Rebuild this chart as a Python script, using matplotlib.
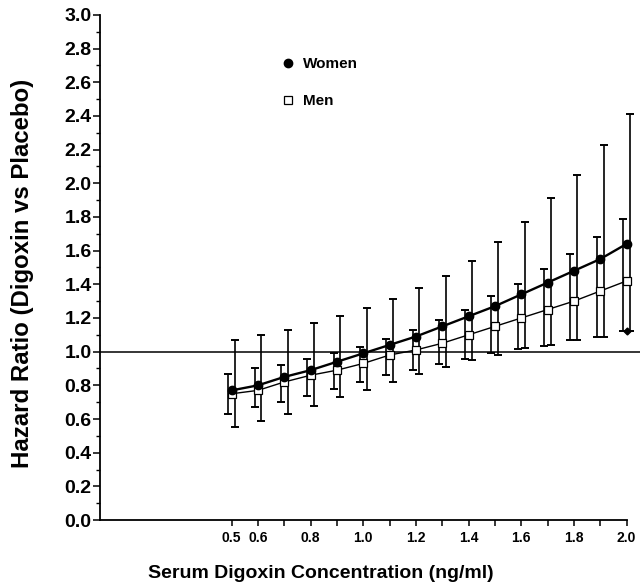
import matplotlib
matplotlib.use("Agg")
import matplotlib.pyplot as plt
from matplotlib.ticker import MultipleLocator, FixedLocator

# serum digoxin concentration (ng/ml)
conc = [0.5, 0.6, 0.7, 0.8, 0.9, 1.0, 1.1, 1.2, 1.3, 1.4, 1.5, 1.6, 1.7, 1.8, 1.9, 2.0]

# hazard ratios and 95% CI
women_hr = [0.77, 0.80, 0.85, 0.89, 0.94, 0.99, 1.04, 1.09, 1.15, 1.21, 1.27, 1.34, 1.41, 1.48, 1.55, 1.64]
women_lo = [0.555, 0.59, 0.63, 0.68, 0.73, 0.77, 0.82, 0.87, 0.91, 0.95, 0.98, 1.02, 1.04, 1.07, 1.09, 1.12]
women_hi = [1.07, 1.10, 1.13, 1.17, 1.21, 1.26, 1.31, 1.38, 1.45, 1.54, 1.65, 1.77, 1.91, 2.05, 2.23, 2.41]

men_hr = [0.75, 0.77, 0.82, 0.86, 0.89, 0.93, 0.98, 1.01, 1.05, 1.10, 1.15, 1.20, 1.25, 1.30, 1.36, 1.42]
men_lo = [0.63, 0.67, 0.70, 0.735, 0.78, 0.82, 0.86, 0.89, 0.925, 0.955, 0.99, 1.015, 1.035, 1.07, 1.09, 1.12]
men_hi = [0.87, 0.90, 0.92, 0.955, 0.99, 1.03, 1.075, 1.13, 1.19, 1.25, 1.33, 1.40, 1.49, 1.58, 1.68, 1.79]

xtick_labels = ["0.5", "0.6", "", "0.8", "", "1.0", "", "1.2", "", "1.4", "", "1.6", "", "1.8", "", "2.0"]

plt.rcParams["font.family"] = ["Liberation Sans", "DejaVu Sans"]
plt.rcParams["font.weight"] = "bold"

fig = plt.figure(figsize=(6.41, 5.88), dpi=100)
ax = fig.add_axes([0.156, 0.1156, 0.842, 0.859])

# small horizontal offset so the two sets of bars don't sit on top of each other
off = 0.013
men_x = [c - off for c in conc]
women_x = [c + off for c in conc]

ax.axhline(1.0, color="black", lw=1.1, zorder=1)

ax.errorbar(men_x, men_hr,
            yerr=[[h - l for h, l in zip(men_hr, men_lo)], [u - h for h, u in zip(men_hr, men_hi)]],
            fmt="none", ecolor="black", elinewidth=1.2, capsize=3.2, capthick=1.4, zorder=2)
ax.errorbar(women_x, women_hr,
            yerr=[[h - l for h, l in zip(women_hr, women_lo)], [u - h for h, u in zip(women_hr, women_hi)]],
            fmt="none", ecolor="black", elinewidth=1.2, capsize=3.2, capthick=1.4, zorder=2)

ax.plot(conc, men_hr, color="black", lw=1.0, marker="s", ms=5.5, mfc="white",
        mec="black", mew=0.9, label="Men", zorder=3)
ax.plot(conc, women_hr, color="black", lw=1.7, marker="o", ms=6, mfc="black",
        mec="black", label="Women", zorder=4)
# small dot at the lower end of the last women's bar
ax.plot(conc[-1], women_lo[-1], marker="D", ms=3.5, color="black", zorder=4)

ax.set_xlim(0, 2.05)
ax.set_ylim(0, 3.0)
ax.spines["top"].set_visible(False)
ax.spines["right"].set_visible(False)
ax.spines["bottom"].set_bounds(0, 2.0)
ax.spines["left"].set_linewidth(1.3)
ax.spines["bottom"].set_linewidth(1.3)

ax.xaxis.set_major_locator(FixedLocator(conc))
ax.set_xticklabels(xtick_labels, fontsize=10, fontweight="bold")
ax.yaxis.set_major_locator(MultipleLocator(0.2))
ax.yaxis.set_minor_locator(MultipleLocator(0.1))
ax.set_yticklabels([f"{v:.1f}" for v in ax.get_yticks()], fontsize=14, fontweight="bold")
ax.tick_params(axis="x", length=4, width=1.1, pad=4)
ax.tick_params(axis="y", which="major", length=5, width=1.1, pad=1)
ax.tick_params(axis="y", which="minor", length=3, width=1.0)

ax.set_xlabel("Serum Digoxin Concentration (ng/ml)", fontsize=14, fontweight="bold")
ax.xaxis.set_label_coords(0.41, -0.09)
ax.set_ylabel("Hazard Ratio (Digoxin vs Placebo)", fontsize=17.3, fontweight="bold")
ax.yaxis.set_label_coords(-0.123, 0.489)

handles, labels = ax.get_legend_handles_labels()
leg = ax.legend([handles[1], handles[0]], ["Women", "Men"], loc="upper left",
                bbox_to_anchor=(0.322, 0.944), frameon=False, handlelength=0,
                handletextpad=1.0, labelspacing=1.5, prop={"size": 11, "weight": "bold"})

fig.savefig("out.png", dpi=100)
